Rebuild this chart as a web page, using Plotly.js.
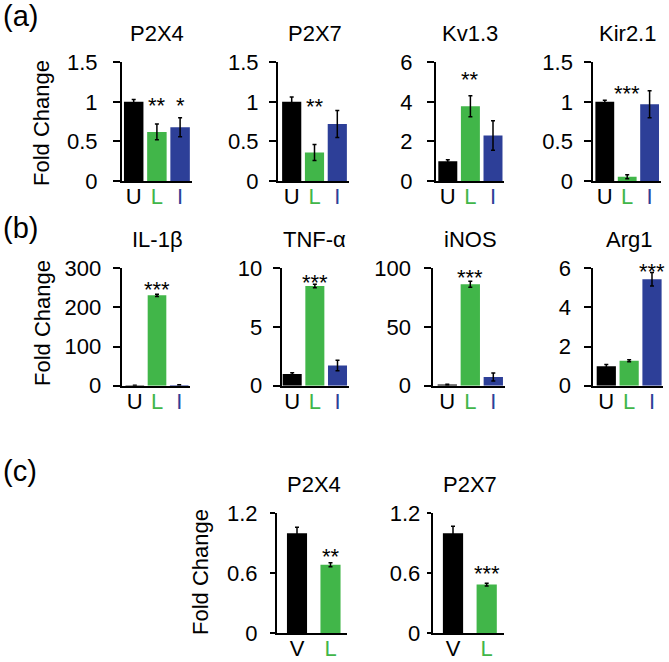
<!DOCTYPE html>
<html><head><meta charset="utf-8">
<script src="https://cdn.plot.ly/plotly-3.0.1.min.js"></script>
<style>html,body{margin:0;padding:0;background:#fff}#chart{width:669px;height:662px}</style>
</head><body><div id="chart"></div><script>
const W = 669, H = 662;

// ---------- data ----------
const catsULI = ['U', 'L', 'I'];
const catsVL = ['V', 'L'];

// (a) ion channels
const genesA = ['P2X4', 'P2X7', 'Kv1.3', 'Kir2.1'];
const meanA_P2X4 = [1.00, 0.62, 0.68];  const errA_P2X4 = [0.03, 0.10, 0.12];
const meanA_P2X7 = [1.00, 0.36, 0.72];  const errA_P2X7 = [0.06, 0.10, 0.17];
const meanA_Kv13 = [1.00, 3.78, 2.30];  const errA_Kv13 = [0.08, 0.53, 0.74];
const meanA_Kir21 = [1.00, 0.055, 0.97]; const errA_Kir21 = [0.02, 0.025, 0.17];
const sigA_P2X4 = ['', '**', '*'];
const sigA_P2X7 = ['', '**', ''];
const sigA_Kv13 = ['', '**', ''];
const sigA_Kir21 = ['', '***', ''];
const starLevelA = [1.03, 1.02, 5.43, 1.18];
const yMaxA = [1.5, 1.5, 6, 1.5];
const yTicksA = [[0, 0.5, 1, 1.5], [0, 0.5, 1, 1.5], [0, 2, 4, 6], [0, 0.5, 1, 1.5]];

// (b) inflammatory markers
const genesB = ['IL-1β', 'TNF-α', 'iNOS', 'Arg1'];
const meanB_IL1b = [1.0, 231, 2.0];  const errB_IL1b = [0.3, 3.0, 0.5];
const meanB_TNFa = [1.00, 8.50, 1.72]; const errB_TNFa = [0.10, 0.15, 0.45];
const meanB_iNOS = [1.0, 86.4, 7.4];  const errB_iNOS = [0.3, 2.5, 3.5];
const meanB_Arg1 = [1.00, 1.28, 5.44]; const errB_Arg1 = [0.08, 0.05, 0.34];
const sigB_IL1b = ['', '***', ''];
const sigB_TNFa = ['', '***', ''];
const sigB_iNOS = ['', '***', ''];
const sigB_Arg1 = ['', '', '***'];
const starLevelB = [260, 9.28, 97, 6.15];
const yMaxB = [300, 10, 100, 6];
const yTicksB = [[0, 100, 200, 300], [0, 5, 10], [0, 50, 100], [0, 2, 4, 6]];

// (c) vehicle vs LPS
const genesC = ['P2X4', 'P2X7'];
const meanC_P2X4 = [1.00, 0.685]; const errC_P2X4 = [0.06, 0.02];
const meanC_P2X7 = [1.00, 0.485]; const errC_P2X7 = [0.07, 0.015];
const sigC_P2X4 = ['', '**'];
const sigC_P2X7 = ['', '***'];
const starLevelC = [0.83, 0.66];
const yMaxC = [1.2, 1.2];
const yTicksC = [[0, 0.6, 1.2], [0, 0.6, 1.2]];

// ---------- styles ----------
const FONT = 'Arial, "Liberation Sans", sans-serif';
const GREEN = '#41b649', BLUE = '#2d3f98', BLACK = '#000000';
const catColor = {U: BLACK, V: BLACK, L: GREEN, I: BLUE};

// pixel geometry of each panel: y-axis x, first category centre, slot width, tick length, label standoff
const rowA = {yTop: 62.3, yZero: 181};
const rowB = {yTop: 268.3, yZero: 385.7};
const rowC = {yTop: 513.3, yZero: 633};
const geoA = [[122, 133.7, 23.2, 7, 11], [278, 291.7, 22.8, 7, 6], [436, 447.8, 22.6, 7, 10], [593.3, 604.8, 22.4, 7, 7]];
const geoB = [[121.7, 134.8, 22.2, 7, 7], [281.7, 292.2, 22.65, 7, 6], [433.3, 447.3, 23, 7, 9], [593.3, 606.3, 22.85, 7, 9]];
const geoC = [[277, 297, 33.5, 5, 8], [432.7, 453, 33.7, 4, 2]];

const traces = [];
const layout = {
  width: W, height: H, margin: {l: 0, r: 0, t: 0, b: 0},
  paper_bgcolor: '#fff', plot_bgcolor: 'rgba(0,0,0,0)',
  showlegend: false, font: {family: FONT, size: 22, color: BLACK},
  annotations: []
};

let k = 0;
function panel(row, geo, title, cats, means, errs, sig, starLevel, yMax, yTicks, barFrac) {
  k += 1;
  const xa = 'xaxis' + (k === 1 ? '' : k), ya = 'yaxis' + (k === 1 ? '' : k);
  const xr = 'x' + (k === 1 ? '' : k), yr = 'y' + (k === 1 ? '' : k);
  const [axisX, c0, slot, tlen, standoff] = geo;
  const n = cats.length;
  const right = c0 + (n - 0.5) * slot;
  const r0 = -0.5 - (c0 - slot / 2 - axisX) / slot;
  const yd0 = 1 - row.yZero / H, yd1 = 1 - row.yTop / H;
  traces.push({
    type: 'bar', x: cats, y: means, xaxis: xr, yaxis: yr,
    width: barFrac,
    marker: {color: cats.map(c => catColor[c]), line: {width: 0}},
    error_y: {type: 'data', array: errs, visible: true, color: BLACK, thickness: 1.5, width: 2},
    hoverinfo: 'none'
  });
  layout[xa] = {
    domain: [axisX / W, right / W], range: [r0, n - 0.5], anchor: yr,
    type: 'category', showline: true, linecolor: BLACK, linewidth: 2,
    ticks: '', showgrid: false, zeroline: false, fixedrange: true,
    tickvals: cats, ticklabelstandoff: -5,
    ticktext: cats.map(c => '<span style="color:' + catColor[c] + '">' + c + '</span>'),
    tickfont: {family: FONT, size: 22}
  };
  layout[ya] = {
    domain: [yd0, yd1], range: [0, yMax], anchor: xr,
    showline: true, linecolor: BLACK, linewidth: 2, ticks: 'outside', ticklen: tlen,
    tickwidth: 2, tickcolor: BLACK, showgrid: false, zeroline: false, fixedrange: true,
    tickvals: yTicks, ticktext: yTicks.map(String), ticklabelstandoff: standoff,
    tickfont: {family: FONT, size: 22, color: BLACK}
  };
  layout.annotations.push({
    xref: 'paper', yref: 'paper', x: (c0 + (n - 1) * slot / 2) / W,
    y: 1 - (row.yTop - 29) / H, text: title, showarrow: false,
    xanchor: 'center', yanchor: 'middle', font: {family: FONT, size: 22, color: BLACK}
  });
  sig.forEach((s, i) => {
    if (!s) return;
    layout.annotations.push({
      xref: 'paper', yref: 'paper',
      x: (c0 + i * slot) / W,
      y: yd0 + (starLevel / yMax) * (yd1 - yd0),
      text: s, showarrow: false,
      xanchor: 'center', yanchor: 'middle', yshift: -6,
      font: {family: FONT, size: 22, color: BLACK}
    });
  });
}

const seriesA = [[meanA_P2X4, errA_P2X4, sigA_P2X4], [meanA_P2X7, errA_P2X7, sigA_P2X7],
                 [meanA_Kv13, errA_Kv13, sigA_Kv13], [meanA_Kir21, errA_Kir21, sigA_Kir21]];
seriesA.forEach((s, i) => panel(rowA, geoA[i], genesA[i], catsULI, s[0], s[1], s[2], starLevelA[i], yMaxA[i], yTicksA[i], 0.84));

const seriesB = [[meanB_IL1b, errB_IL1b, sigB_IL1b], [meanB_TNFa, errB_TNFa, sigB_TNFa],
                 [meanB_iNOS, errB_iNOS, sigB_iNOS], [meanB_Arg1, errB_Arg1, sigB_Arg1]];
seriesB.forEach((s, i) => panel(rowB, geoB[i], genesB[i], catsULI, s[0], s[1], s[2], starLevelB[i], yMaxB[i], yTicksB[i], 0.84));

const seriesC = [[meanC_P2X4, errC_P2X4, sigC_P2X4], [meanC_P2X7, errC_P2X7, sigC_P2X7]];
seriesC.forEach((s, i) => panel(rowC, geoC[i], genesC[i], catsVL, s[0], s[1], s[2], starLevelC[i], yMaxC[i], yTicksC[i], 0.6));

// y-axis titles and panel letters
const foldTitles = [[42, 123], [42, 323], [200, 572]];
foldTitles.forEach(p => layout.annotations.push({
  xref: 'paper', yref: 'paper', x: p[0] / W, y: 1 - p[1] / H, text: 'Fold Change',
  textangle: -90, showarrow: false, xanchor: 'center', yanchor: 'middle',
  font: {family: FONT, size: 22, color: BLACK}
}));
const panelLetters = [['(a)', 20, 16], ['(b)', 20, 228], ['(c)', 20, 471]];
panelLetters.forEach(p => layout.annotations.push({
  xref: 'paper', yref: 'paper', x: p[1] / W, y: 1 - p[2] / H, text: p[0],
  showarrow: false, xanchor: 'center', yanchor: 'middle',
  font: {family: FONT, size: 29, color: BLACK}
}));

Plotly.newPlot('chart', traces, layout, {staticPlot: true, displayModeBar: false});
</script></body></html>
